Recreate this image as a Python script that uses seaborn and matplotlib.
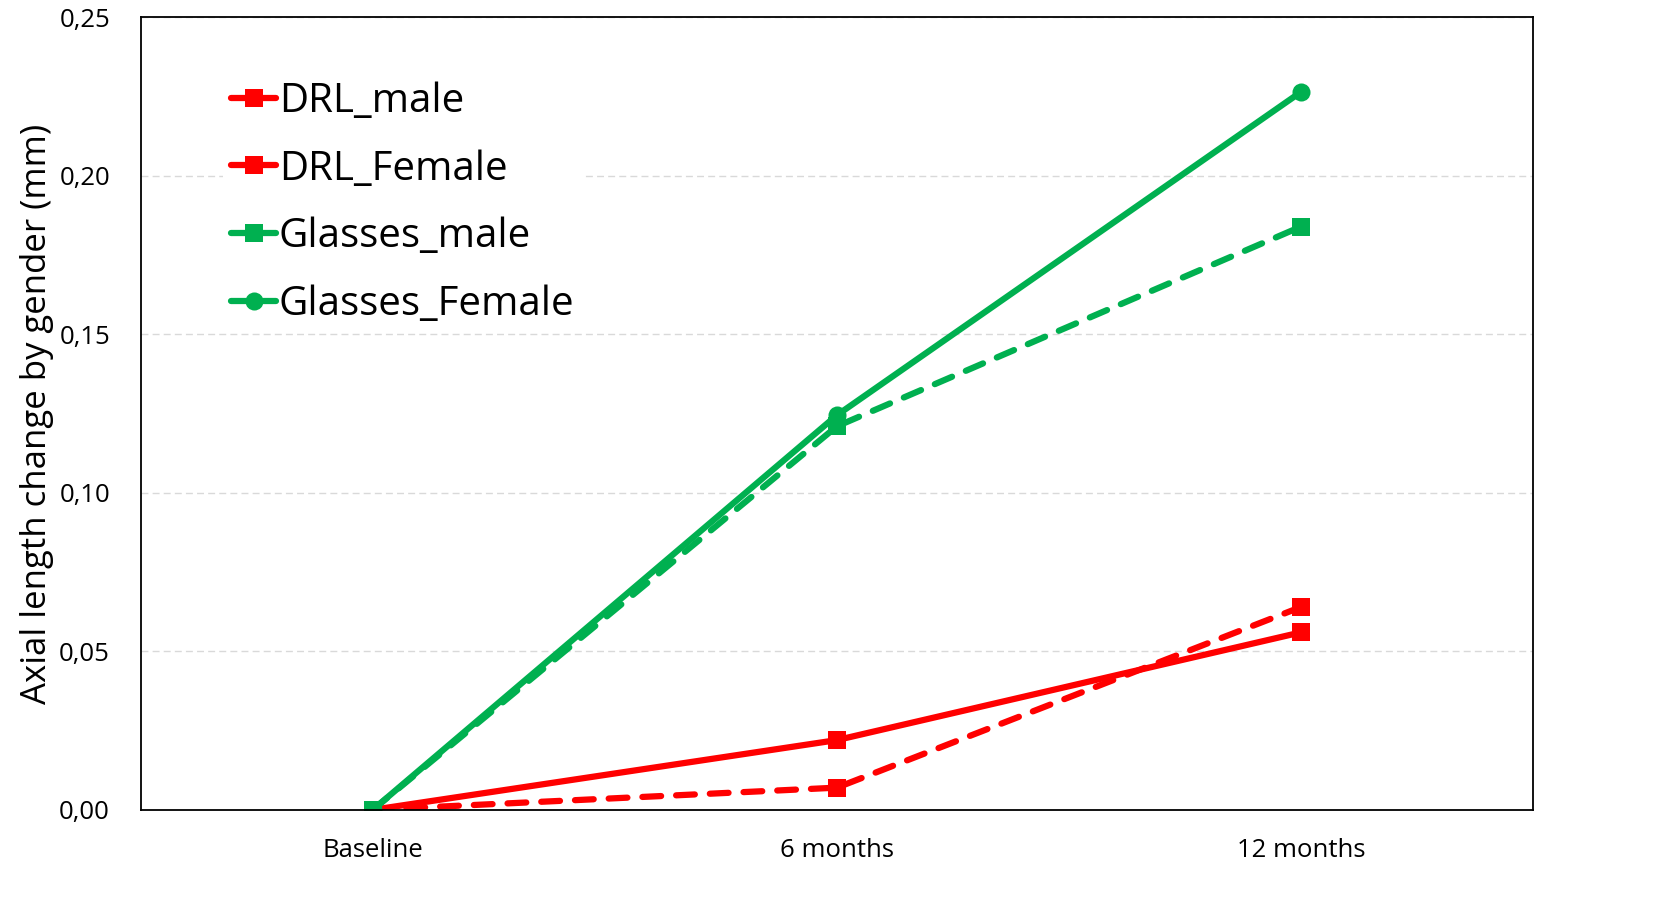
import numpy as np
import pandas as pd
import matplotlib
matplotlib.use("Agg")
import matplotlib.pyplot as plt
from matplotlib.ticker import FuncFormatter, MultipleLocator
import seaborn as sns

# ==========================================
# DATA
# ==========================================

timepoints = ["Baseline", "6 months", "12 months"]

drl_male = [0.000, 0.022, 0.056]
drl_female = [0.000, 0.007, 0.064]
glasses_male = [0.000, 0.121, 0.184]
glasses_female = [0.000, 0.1245, 0.2265]

series_names = ["DRL_male", "DRL_Female", "Glasses_male", "Glasses_Female"]
series_values = [drl_male, drl_female, glasses_male, glasses_female]

# ==========================================
# STYLE
# ==========================================

sns.set_style("white", {"text.color": "black", "axes.labelcolor": "black",
                        "xtick.color": "black", "ytick.color": "black"})
plt.rcParams['font.family'] = ['Open Sans', 'DejaVu Sans']

red = "#ff0000"
green = "#00b050"
dashed = (0, (3.0, 2.4))

styles = {
    "DRL_male": dict(color=red, linestyle="-", marker="s"),
    "DRL_Female": dict(color=red, linestyle=dashed, marker="s"),
    "Glasses_male": dict(color=green, linestyle=dashed, marker="s"),
    "Glasses_Female": dict(color=green, linestyle="-", marker="o"),
}

fig, ax = plt.subplots(figsize=(16.54, 9.13), dpi=100)
fig.subplots_adjust(left=0.085, right=0.927, top=0.981, bottom=0.113)

for name, vals in zip(series_names, series_values):
    st = styles[name]
    sns.lineplot(
        x=timepoints,
        y=vals,
        ax=ax,
        color=st["color"],
        linestyle=st["linestyle"],
        marker=st["marker"],
        markersize=13,
        markeredgewidth=0,
        linewidth=4.5,
        dash_capstyle="round",
        label=name,
        sort=False,
    )

# ==========================================
# AXES
# ==========================================

ax.set_xlim(-0.5, 2.5)
ax.set_ylim(0, 0.25)
ax.yaxis.set_major_locator(MultipleLocator(0.05))
ax.yaxis.set_major_formatter(FuncFormatter(lambda v, p: f"{v:.2f}".replace(".", ",")))

ax.grid(axis="y", color="#d9d9d9", linestyle=(0, (5, 3)), linewidth=1)
ax.set_axisbelow(True)

for s in ax.spines.values():
    s.set_color("black")
    s.set_linewidth(1.3)

ax.tick_params(axis="x", labelsize=18.5, length=0, pad=20, colors="black")
ax.tick_params(axis="y", labelsize=18.5, length=0, pad=22, colors="black")
ax.set_xlabel("")
ax.set_ylabel("Axial length change by gender (mm)", fontsize=25, labelpad=4,
              color="black")

# Legend (all handles solid like the original)
handles, labels = ax.get_legend_handles_labels()
leg = ax.legend(
    handles,
    labels,
    loc="upper left",
    bbox_to_anchor=(0.045, 0.955),
    fontsize=29,
    frameon=True,
    facecolor="white",
    edgecolor="none",
    framealpha=1,
    handlelength=1.1,
    handletextpad=0.08,
    labelspacing=0.68,
    borderpad=0.2,
    labelcolor="black",
)
for h in leg.get_lines():
    h.set_linestyle("-")
    h.set_linewidth(4.5)

plt.savefig("out.png", dpi=100)
